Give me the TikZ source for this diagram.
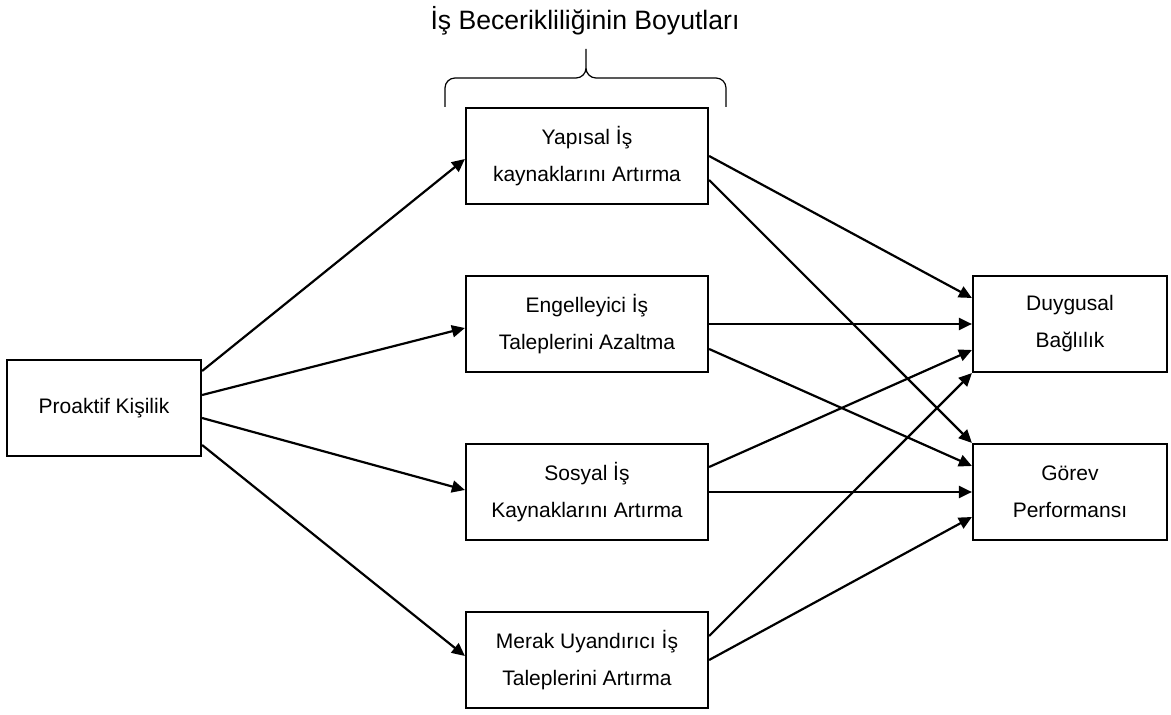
\documentclass[tikz,border=0pt]{standalone}
\usepackage{fontspec}
\setmainfont{Liberation Sans}
\usetikzlibrary{arrows.meta}

\begin{document}
\begin{tikzpicture}[x=0.5pt, y=-0.5pt, line width=1.1pt, >={Triangle[length=6.5pt,width=6pt]},
    box/.style={draw, align=center, inner sep=0pt, minimum height=48pt, minimum width=121pt,
      font=\fontsize{10.5}{18.5}\selectfont},
    outbox/.style={box, minimum width=97pt},
    ampersand replacement=\&]
        \useasboundingbox (0,0) rectangle (1171,715);
        \node[font=\fontsize{13.3}{15}\selectfont, anchor=base] (T) at (585,30) {İş Becerikliliğinin Boyutları};
        \draw[line width=0.6pt] (445,107) -- (445,88) to[out=90,in=180] (455,78) -- (576,78)
          to[out=0,in=-90] (586,68) -- (586,49) -- (586,68) to[out=-90,in=180] (596,78)
          -- (716,78) to[out=0,in=90] (726,88) -- (726,107);
        \matrix[column sep={241.5pt,between origins}, row sep={42pt,between origins}] at (587,408)
        {
          \& \node[box](Y) {Yapısal İş\\kaynaklarını Artırma}; \& \\
          \&\& \\
          \& \node[box](E) {Engelleyici İş\\Taleplerini Azaltma}; \& \node[outbox](D) {Duygusal\\Bağlılık}; \\
          \node[outbox](P) {Proaktif Kişilik}; \&\& \\
          \& \node[box](S) {Sosyal İş\\Kaynaklarını Artırma}; \& \node[outbox](G) {Görev\\Performansı}; \\
          \&\& \\
          \& \node[box](M) {Merak Uyandırıcı İş\\Taleplerini Artırma}; \& \\
        };
        \draw[->] ([yshift=18.5pt]P.east) -- ([yshift=-1.5pt]Y.west);
        \draw[->] ([yshift=6.5pt]P.east) -- ([yshift=-2pt]E.west);
        \draw[->] ([yshift=-5pt]P.east) -- ([yshift=1pt]S.west);
        \draw[->] ([yshift=-18.5pt]P.east) -- ([yshift=2pt]M.west);
        \draw[->] (Y.east) -- ([yshift=13pt]D.west);
        \draw[->] ([yshift=-12pt]Y.east) -- (G.north west);
        \draw[->] (E.east) -- (D.west);
        \draw[->] ([yshift=-12.5pt]E.east) -- ([yshift=13pt]G.west);
        \draw[->] ([yshift=12.5pt]S.east) -- ([yshift=-13pt]D.west);
        \draw[->] (S.east) -- (G.west);
        \draw[->] ([yshift=12pt]M.east) -- (D.south west);
        \draw[->] (M.east) -- ([yshift=-12.5pt]G.west);
      \end{tikzpicture}
\end{document}
